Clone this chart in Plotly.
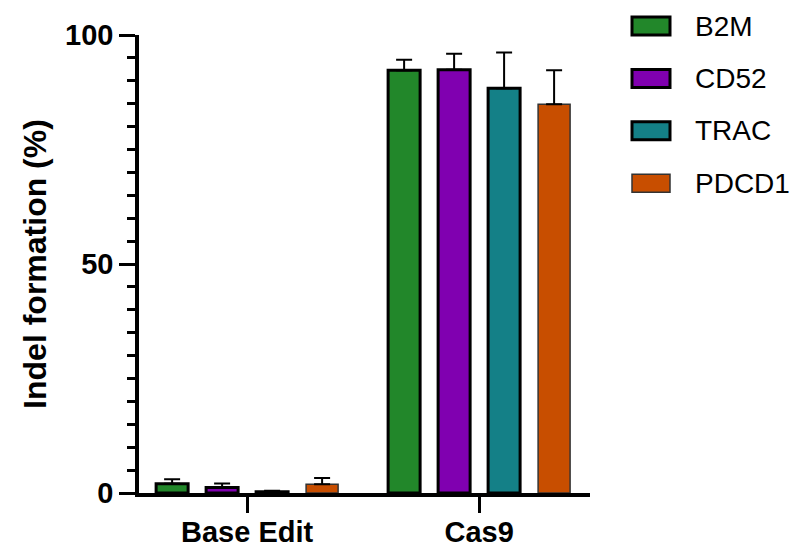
import plotly.graph_objects as go

# Editing approaches on the x axis
categories = ["Base Edit", "Cas9"]

# Target loci (one bar series each)
genes = ["B2M", "CD52", "TRAC", "PDCD1"]
colors = ["#22872A", "#8000B0", "#148087", "#C84E00"]
border_widths = [3, 3, 3, 1.5]
border_colors = ["#000000", "#000000", "#000000", "#333333"]

# Mean indel formation (%) and upper error (SD)
means = {
    "B2M":   [2.0, 92.3],
    "CD52":  [1.2, 92.4],
    "TRAC":  [0.3, 88.4],
    "PDCD1": [1.9, 84.9],
}
errors = {
    "B2M":   [1.0, 2.3],
    "CD52":  [0.9, 3.5],
    "TRAC":  [0.2, 7.8],
    "PDCD1": [1.4, 7.4],
}

W, H = 797, 549
ML, MR, MT, MB = 139, 207, 35, 56
FONT = "Arial, Liberation Sans, Helvetica, sans-serif"

fig = go.Figure()
for g, c, bw, bc in zip(genes, colors, border_widths, border_colors):
    fig.add_trace(go.Bar(
        name=g,
        x=categories,
        y=means[g],
        marker=dict(color=c, line=dict(color=bc, width=bw)),
        error_y=dict(
            type="data",
            symmetric=False,
            array=errors[g],
            arrayminus=[0] * len(categories),
            color="black",
            thickness=2,
            width=8,
        ),
        showlegend=False,
    ))

# Legend drawn as swatches + labels to the right of the plot
pw = W - ML - MR
ph = H - MT - MB


def px_x(x):
    return (x - ML) / pw


def px_y(y):
    return (H - MB - y) / ph


legend_y0 = 26
legend_step = 52.4
shapes = []
annotations = []
for i, (g, c, bw, bc) in enumerate(zip(genes, colors, border_widths, border_colors)):
    cy = legend_y0 + i * legend_step
    shapes.append(dict(
        type="rect", xref="paper", yref="paper",
        x0=px_x(632), x1=px_x(670), y0=px_y(cy + 9), y1=px_y(cy - 9),
        fillcolor=c, line=dict(color=bc, width=bw),
    ))
    annotations.append(dict(
        xref="paper", yref="paper", x=px_x(693), y=px_y(cy),
        xanchor="left", yanchor="middle", text=g, showarrow=False,
        font=dict(family=FONT, size=28, color="black"),
    ))

fig.update_layout(
    width=W, height=H,
    margin=dict(l=ML, r=MR, t=MT, b=MB, autoexpand=False),
    paper_bgcolor="white", plot_bgcolor="white",
    barmode="group", bargap=0.138, bargroupgap=0.36,
    font=dict(family=FONT, color="black"),
    shapes=shapes,
    annotations=annotations,
    xaxis=dict(
        type="category",
        range=[-0.466, 1.478],
        automargin=False,
        showline=True, linecolor="black", linewidth=3.5,
        ticks="outside", ticklen=16, tickwidth=3, tickcolor="black",
        ticklabelstandoff=-6,
        tickfont=dict(family=FONT, size=29, color="black", weight="bold"),
        showgrid=False, zeroline=False,
    ),
    yaxis=dict(
        range=[0, 100],
        tickvals=[0, 50, 100],
        automargin=False,
        showline=True, linecolor="black", linewidth=3.5,
        ticks="outside", ticklen=16, tickwidth=3, tickcolor="black",
        tickfont=dict(family=FONT, size=29, color="black", weight="bold"),
        minor=dict(dtick=5, ticks="outside", ticklen=8, tickwidth=3, tickcolor="black"),
        showgrid=False, zeroline=False,
        title=dict(text="Indel formation (%)", standoff=10,
                   font=dict(family=FONT, size=32, color="black", weight="bold")),
    ),
)

fig.write_html("out.html")
